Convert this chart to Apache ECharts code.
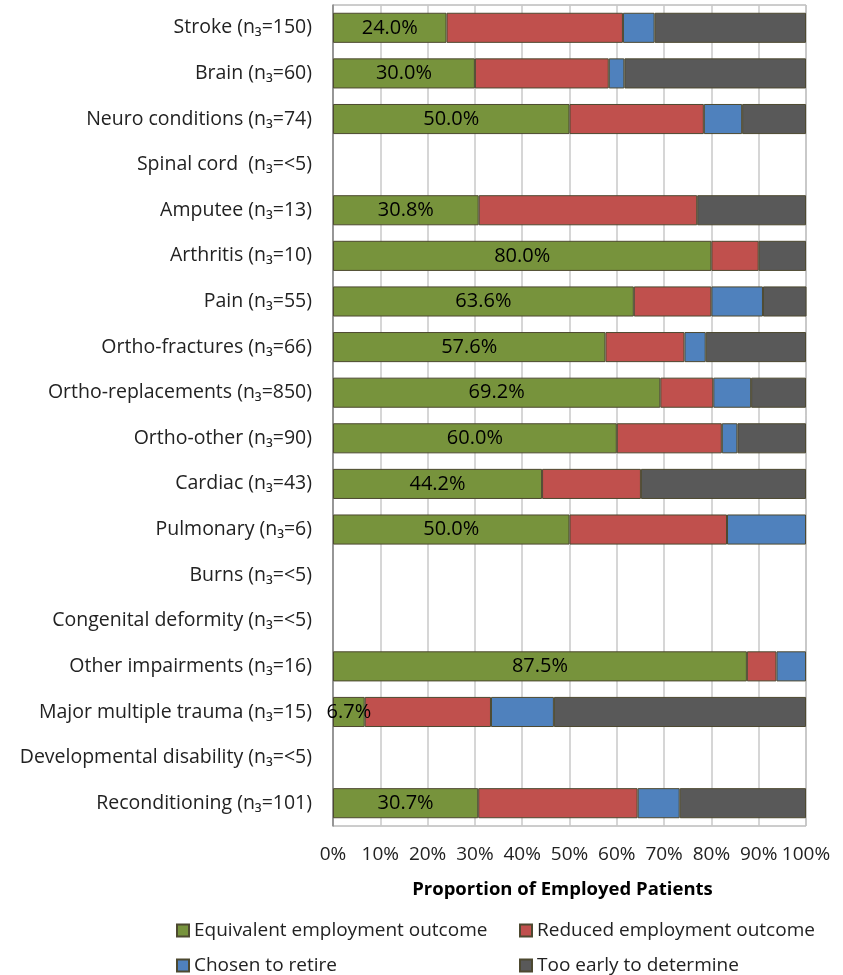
<!DOCTYPE html>
<html>
<head>
<meta charset="utf-8">
<script src="https://cdn.jsdelivr.net/npm/echarts@6/dist/echarts.min.js"></script>
<style>
  html, body { margin: 0; padding: 0; background: #fff; }
  #myChart { width: 843px; height: 975px; }
</style>
</head>
<body>
<div id="myChart"></div>
<script>
// categories (top to bottom)
const categories = [
  'Stroke (n₃=150)', 'Brain (n₃=60)', 'Neuro conditions (n₃=74)', 'Spinal cord  (n₃=<5)',
  'Amputee (n₃=13)', 'Arthritis (n₃=10)', 'Pain (n₃=55)', 'Ortho-fractures (n₃=66)',
  'Ortho-replacements (n₃=850)', 'Ortho-other (n₃=90)', 'Cardiac (n₃=43)', 'Pulmonary (n₃=6)',
  'Burns (n₃=<5)', 'Congenital deformity (n₃=<5)', 'Other impairments (n₃=16)',
  'Major multiple trauma (n₃=15)', 'Developmental disability (n₃=<5)', 'Reconditioning (n₃=101)'
];
const xTicks = ['0%', '10%', '20%', '30%', '40%', '50%', '60%', '70%', '80%', '90%', '100%'];

// proportions in %
const equivalent = [24.0, 30.0, 50.0, null, 30.8, 80.0, 63.6, 57.6, 69.2, 60.0, 44.2, 50.0, null, null, 87.5, 6.7, null, 30.7];
const reduced    = [37.3, 28.3, 28.4, null, 46.2, 10.0, 16.4, 16.7, 11.2, 22.2, 20.9, 33.3, null, null, 6.25, 26.7, null, 33.7];
const retired    = [6.7, 3.3, 8.1, null, 0, 0, 10.9, 4.5, 8.0, 3.3, 0, 16.7, null, null, 6.25, 13.3, null, 8.9];
const tooEarly   = [32.0, 38.4, 13.5, null, 23.0, 10.0, 10.9, 21.2, 11.6, 14.5, 34.9, 0, null, null, 0, 53.3, null, 26.7];

const seriesNames = ['Equivalent employment outcome', 'Reduced employment outcome', 'Chosen to retire', 'Too early to determine'];
const colors = ['#77933C', '#C0504D', '#4F81BD', '#595959'];
const FONT = '"Open Sans", "Noto Sans", sans-serif';

let myChart = echarts.init(document.getElementById('myChart'));

const mkSeries = (name, data, i) => ({
  name: name,
  type: 'bar',
  stack: 'Total',
  barCategoryGap: '34%',
  data: data.map(v => (v === 0 ? null : v)),
  itemStyle: { color: colors[i], borderColor: '#4d4930', borderWidth: 1 },
  label: i === 0 ? {
    show: true,
    position: 'inside',
    color: '#000',
    fontFamily: FONT,
    fontSize: 20,
    formatter: p => p.value.toFixed(1) + '%'
  } : { show: false },
  emphasis: { disabled: true }
});

// legend laid out in two columns, two rows
const legendPos = [[176, 921], [519, 921], [176, 956], [519, 956]];

myChart.setOption({
  animation: false,
  grid: {
    left: 333, right: 37, top: 5, bottom: 149,
    show: true, borderColor: '#9a9a9a', borderWidth: 1
  },
  legend: seriesNames.map((n, i) => ({
    data: [n],
    left: legendPos[i][0],
    top: legendPos[i][1],
    padding: 0,
    itemWidth: 12,
    itemHeight: 12,
    icon: 'rect',
    itemGap: 6,
    textStyle: { fontFamily: FONT, fontSize: 19, color: '#222' }
  })),
  xAxis: {
    type: 'value',
    min: 0, max: 100, interval: 10,
    name: 'Proportion of Employed Patients',
    nameLocation: 'middle',
    nameGap: 54,
    nameTextStyle: { fontFamily: FONT, fontSize: 18.5, fontWeight: 'bold', color: '#000', padding: [0, 14, 0, 0] },
    axisLine: { show: false },
    axisTick: { show: false },
    axisLabel: {
      margin: 19, fontFamily: FONT, fontSize: 19, color: '#222',
      formatter: v => xTicks[Math.round(v / 10)]
    },
    splitLine: { show: true, lineStyle: { color: '#c8c8c8', width: 1.5 } }
  },
  yAxis: {
    type: 'category',
    inverse: true,
    data: categories,
    axisLine: { show: true, lineStyle: { color: '#868686', width: 1.5 } },
    axisTick: { show: false },
    axisLabel: { interval: 0, margin: 21, fontFamily: FONT, fontSize: 19.5, color: '#222' }
  },
  series: [
    mkSeries(seriesNames[0], equivalent, 0),
    mkSeries(seriesNames[1], reduced, 1),
    mkSeries(seriesNames[2], retired, 2),
    mkSeries(seriesNames[3], tooEarly, 3)
  ]
});

window.onresize = function () {
  myChart.resize();
};
</script>
</body>
</html>
